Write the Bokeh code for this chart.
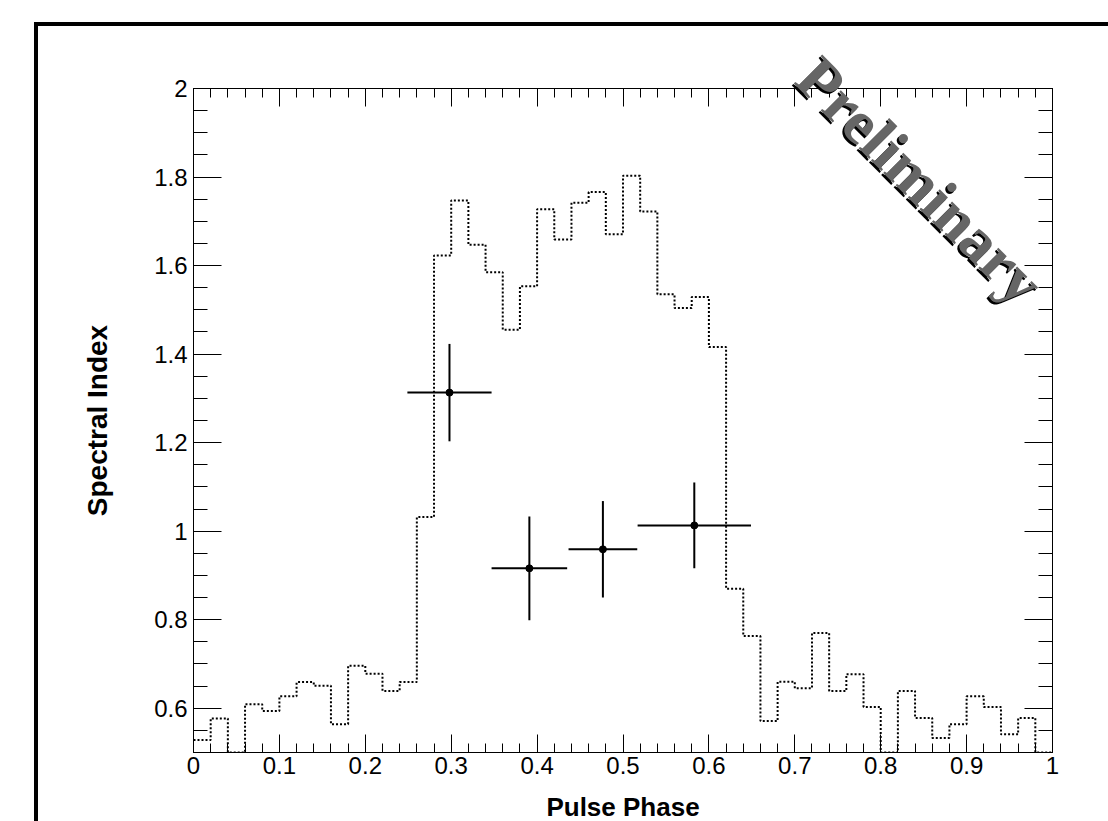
import numpy as np
from math import pi
from bokeh.plotting import figure
from bokeh.layouts import column
from bokeh.models import (Range1d, LinearAxis, FixedTicker, CustomJSTickFormatter,
                          Label, ColumnDataSource)
from bokeh.embed import file_html
from bokeh.resources import INLINE

# ---------------- data ----------------
# Light-curve histogram (50 phase bins, dotted), values in spectral-index units
bin_edges = list(np.linspace(0.0, 1.0, 51))
hist_values = [0.528, 0.577, 0.500, 0.609, 0.594, 0.627, 0.659, 0.651, 0.564, 0.696,
               0.678, 0.639, 0.659, 1.032, 1.623, 1.747, 1.647, 1.585, 1.455, 1.553,
               1.727, 1.659, 1.742, 1.766, 1.671, 1.803, 1.722, 1.535, 1.504, 1.529,
               1.416, 0.870, 0.763, 0.571, 0.660, 0.645, 0.770, 0.639, 0.677, 0.603,
               0.500, 0.639, 0.578, 0.533, 0.564, 0.627, 0.603, 0.541, 0.578, 0.500]

# Spectral index points with errors
phase = [0.298, 0.391, 0.4766, 0.583]
phase_err = [0.049, 0.044, 0.040, 0.066]
spec_index = [1.313, 0.916, 0.959, 1.013]
spec_index_err = [0.110, 0.117, 0.109, 0.097]

x_ticks = [0.0, 0.1, 0.2, 0.3, 0.4, 0.5, 0.6, 0.7, 0.8, 0.9, 1.0]
x_tick_labels = ["0", "0.1", "0.2", "0.3", "0.4", "0.5", "0.6", "0.7", "0.8", "0.9", "1"]
x_minor_ticks = list(np.round(np.arange(0.0, 1.0001, 0.02), 4))
y_ticks = [0.6, 0.8, 1.0, 1.2, 1.4, 1.6, 1.8, 2.0]
y_tick_labels = ["0.6", "0.8", "1", "1.2", "1.4", "1.6", "1.8", "2"]
y_minor_ticks = list(np.round(np.arange(0.5, 2.0001, 0.05), 4))

x_title = "Pulse Phase"
y_title = "Spectral Index"
watermark = "Preliminary"

# ---------------- figure ----------------
W, H = 1108, 821
BL, BT = 193, 88
FW, FH = 859, 664
BR, BB = W - BL - FW, H - BT - FH
p = figure(width=W, height=H, x_range=Range1d(0, 1), y_range=Range1d(0.5, 2.0),
           output_backend="svg", toolbar_location=None,
           min_border_left=BL, min_border_right=BR, min_border_top=BT, min_border_bottom=BB)
p.xgrid.visible = False
p.ygrid.visible = False
p.background_fill_color = "white"
p.border_fill_color = None
p.outline_line_color = "black"
p.outline_line_width = 1
# outer pad frame (thick left and top lines) drawn as the page background of the figure
p.styles = {
    "background-color": "white",
    "background-image": "linear-gradient(#000, #000), linear-gradient(#000, #000)",
    "background-size": "4px 100%, 100% 4px",
    "background-position": "34px 22px, 34px 22px",
    "background-repeat": "no-repeat",
}

FONT = "Liberation Sans"

def make_fmt(vals, labs):
    return CustomJSTickFormatter(args=dict(vals=vals, labs=labs), code="""
        for (let i = 0; i < vals.length; i++) {
            if (Math.abs(vals[i] - tick) < 1e-6) { return labs[i]; }
        }
        return '';
    """)

def style_axis(ax, ticks, labels, minor, maj_len, min_len, show_labels, standoff):
    ax.ticker = FixedTicker(ticks=ticks, minor_ticks=minor)
    ax.major_tick_in = maj_len
    ax.major_tick_out = 0
    ax.minor_tick_in = min_len
    ax.minor_tick_out = 0
    ax.axis_line_color = "black"
    ax.major_tick_line_color = "black"
    ax.minor_tick_line_color = "black"
    ax.major_label_text_font = FONT
    ax.major_label_text_color = "black"
    ax.major_label_standoff = standoff
    ax.major_label_text_font_size = "24px"
    if show_labels:
        ax.formatter = make_fmt(ticks, labels)
    else:
        ax.formatter = CustomJSTickFormatter(code="return '';")

xa = p.xaxis[0]
ya = p.yaxis[0]
style_axis(xa, x_ticks, x_tick_labels, x_minor_ticks, 18, 9, True, 4)
style_axis(ya, y_ticks, y_tick_labels, y_minor_ticks, 28, 14, True, 6)
ya.axis_label = y_title
ya.axis_label_text_font = FONT
ya.axis_label_text_font_style = "bold"
ya.axis_label_text_font_size = "28px"
ya.axis_label_text_color = "black"
ya.axis_label_standoff = 38

top_ax = LinearAxis()
style_axis(top_ax, x_ticks, x_tick_labels, x_minor_ticks, 18, 9, False, 0)
p.add_layout(top_ax, "above")
right_ax = LinearAxis()
style_axis(right_ax, y_ticks, y_tick_labels, y_minor_ticks, 28, 14, False, 0)
p.add_layout(right_ax, "right")

# ---------------- histogram (dotted) ----------------
p.step(x=bin_edges, y=hist_values + [hist_values[-1]], mode="after",
       line_color="black", line_width=2, line_dash="2 2")

# ---------------- points with error bars ----------------
src = ColumnDataSource(dict(
    x=phase, y=spec_index,
    x0=[a - b for a, b in zip(phase, phase_err)],
    x1=[a + b for a, b in zip(phase, phase_err)],
    y0=[a - b for a, b in zip(spec_index, spec_index_err)],
    y1=[a + b for a, b in zip(spec_index, spec_index_err)],
))
p.segment(x0="x0", y0="y", x1="x1", y1="y", source=src, line_color="black", line_width=2)
p.segment(x0="x", y0="y0", x1="x", y1="y1", source=src, line_color="black", line_width=2)
p.scatter(x="x", y="y", source=src, size=7, color="black")

# ---------------- transparent overlay (texts that may cross the frame edge) ----------------
ov = figure(width=W, height=H, x_range=Range1d(0, W), y_range=Range1d(H, 0),
            output_backend="svg", toolbar_location=None,
            x_axis_location=None, y_axis_location=None, min_border=0)
ov.xgrid.visible = False
ov.ygrid.visible = False
ov.outline_line_color = None
ov.background_fill_color = None
ov.border_fill_color = None
ov.styles = {"position": "absolute", "left": "0px", "top": "0px", "pointer-events": "none"}

# x-axis title, centred under the frame
ov.add_layout(Label(x=BL + FW / 2, y=806, x_units="canvas", y_units="canvas",
                    text=x_title, text_align="center", text_baseline="middle",
                    text_font=FONT, text_font_style="bold", text_font_size="26px",
                    text_color="black"))

# watermark with shadow
wx, wy = 920, 180
for dx, dy, col in [(-2, 2, "black"), (0, 0, "#666666")]:
    ov.add_layout(Label(x=wx + dx, y=wy + dy, x_units="canvas", y_units="canvas",
                        text=watermark, angle=-pi / 4,
                        text_align="center", text_baseline="middle",
                        text_font="Liberation Serif", text_font_style="bold",
                        text_font_size="62px", text_color=col))

root = column(p, ov, spacing=0)
open("out.html", "w").write(file_html(root, INLINE))
